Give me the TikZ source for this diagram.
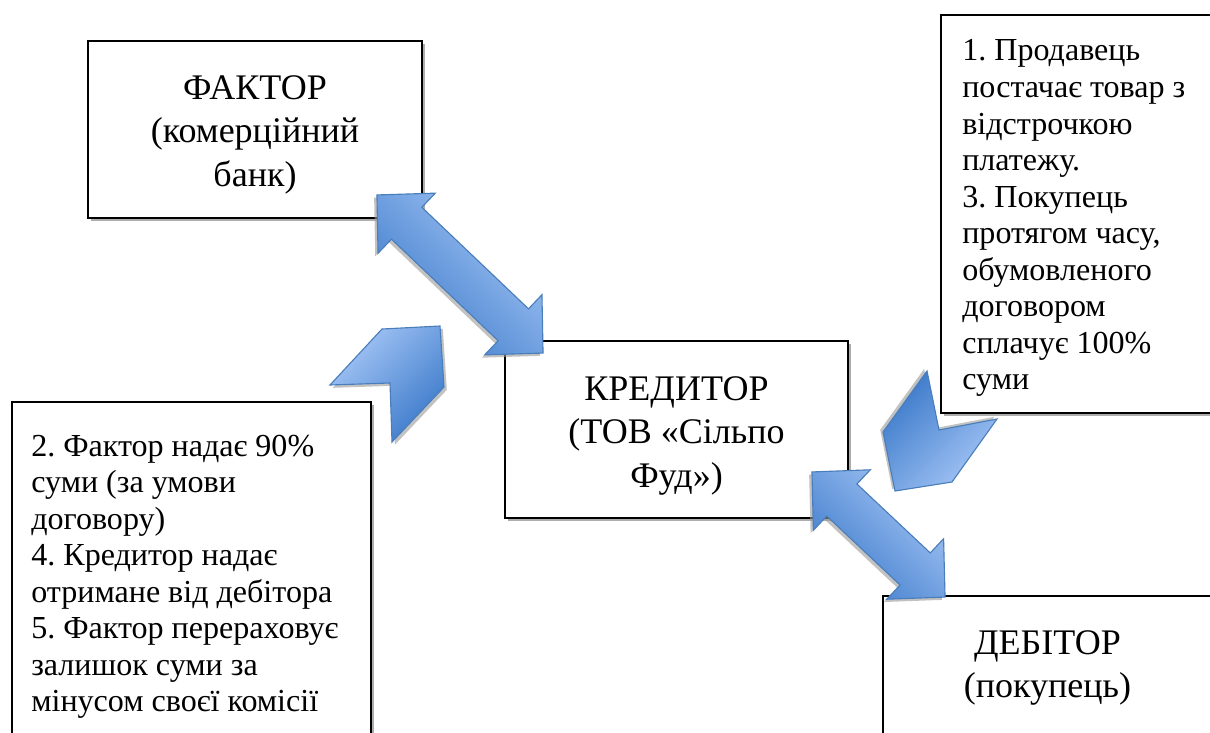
\documentclass[tikz,border=0pt]{standalone}
\usepackage{fontspec}
\IfFontExistsTF{LiberationSerif-Regular.ttf}
    {\setmainfont{LiberationSerif}[Extension=.ttf, UprightFont=*-Regular,
        BoldFont=*-Bold, ItalicFont=*-Italic, BoldItalicFont=*-BoldItalic]}
    {\setmainfont{Liberation Serif}}
\usetikzlibrary{positioning, calc, shadows}

\definecolor{blueLight}{RGB}{165,198,246}
\definecolor{blueDark}{RGB}{60,122,202}
\definecolor{blueLine}{RGB}{74,126,187}

\begin{document}
\frenchspacing
\begin{tikzpicture}[
    x=0.025cm, y=-0.025cm,
    box/.style={draw, line width=1.3pt, fill=white,
        drop shadow={shadow xshift=2pt, shadow yshift=-2pt, fill=black!40, opacity=0.8}},
    title/.style={font=\rmfamily\fontsize{25.6}{31}\selectfont, align=center, inner sep=0pt, anchor=north},
    note/.style={font=\rmfamily\fontsize{22.8}{26}\selectfont, align=left, inner sep=0pt, anchor=north west},
    bluearrow/.style={draw=blueLine, line width=0.8pt, line join=miter,
        top color=blueLight, bottom color=blueDark},
]

\useasboundingbox (0,0) rectangle (1210,732);

% ===================== BOXES =====================
\node[box, minimum width=8.35cm, minimum height=4.425cm] (factor) at (255,129.5) {};
\node[title] (factorText) at ($(factor.north)+(0,35)$) {ФАКТОР\\(комерційний\\банк)};

\node[box, minimum width=8.575cm, minimum height=4.425cm] (kreditor) at (676.5,429.5) {};
\node[title] (kreditorText) at ($(kreditor.north)+(0,36)$) {КРЕДИТОР\\(ТОВ «Сільпо\\Фуд»)};

\node[box, minimum width=8.225cm, minimum height=5.1cm] (debitor) at (1047.5,698) {};
\node[title] (debitorText) at ($(debitor.north)+(0,35)$) {ДЕБІТОР\\(покупець)};

% ===================== NOTES =====================
\node[box, minimum width=6.875cm, minimum height=9.95cm] (noteSeller) at (1078.5,214) {};
\node[note] (noteSellerText) at ($(noteSeller.north west)+(22,25.4)$) {%
    1. Продавець\\
    постачає товар з\\
    відстрочкою\\
    платежу.\\
    3. Покупець\\
    протягом часу,\\
    обумовленого\\
    договором\\
    сплачує 100\%\\
    суми};

\node[box, minimum width=8.975cm, minimum height=8.575cm] (noteFactor) at (191.5,573.5) {};
\node[note] (noteFactorText) at ($(noteFactor.north west)+(20,33.4)$) {%
    2. Фактор надає 90\%\\
    суми (за умови\\
    договору)\\
    4. Кредитор надає\\
    отримане від дебітора\\
    5. Фактор перераховує\\
    залишок суми за\\
    мінусом своєї комісії};

% ===================== DOUBLE ARROWS =====================
\coordinate (tipF)  at ($(factor.south east)+(-46,-24)$);
\coordinate (tipK1) at ($(kreditor.north west)+(39,13)$);
\coordinate (tipK2) at ($(kreditor.south east)+(-37,-47)$);
\coordinate (tipD)  at ($(debitor.north west)+(63,2)$);

\foreach \p/\q in {tipF/tipK1, tipK2/tipD} {
    \coordinate (h1) at ($(\p)!1.025cm!(\q)$);
    \coordinate (h2) at ($(\q)!1.025cm!(\p)$);
    \shade[bluearrow, shading angle=-45,
        drop shadow={shadow xshift=-2pt, shadow yshift=-2pt, fill=black!40, opacity=0.6}]
        (\p) -- ($(h1)!1.0375cm!90:(\q)$) -- ($(h1)!0.55cm!90:(\q)$)
        -- ($(h2)!0.55cm!-90:(\p)$) -- ($(h2)!1.0375cm!-90:(\p)$) -- (\q)
        -- ($(h2)!1.0375cm!90:(\p)$) -- ($(h2)!0.55cm!90:(\p)$)
        -- ($(h1)!0.55cm!-90:(\q)$) -- ($(h1)!1.0375cm!-90:(\q)$) -- cycle;
}

% ===================== CHEVRONS =====================
\shade[bluearrow, shading angle=45,
    drop shadow={shadow xshift=2pt, shadow yshift=-2pt, fill=black!40, opacity=0.6}]
    (330,385) -- (382,329) -- (440,326) -- (444,387) -- (392,442) -- (390,383) -- cycle;

\shade[bluearrow, shading angle=-135,
    drop shadow={shadow xshift=-2pt, shadow yshift=1.5pt, fill=black!40, opacity=0.6}]
    (927,371) -- (939,430) -- (997,419) -- (952,482) -- (895,491) -- (883,432) -- cycle;

\end{tikzpicture}
\end{document}
